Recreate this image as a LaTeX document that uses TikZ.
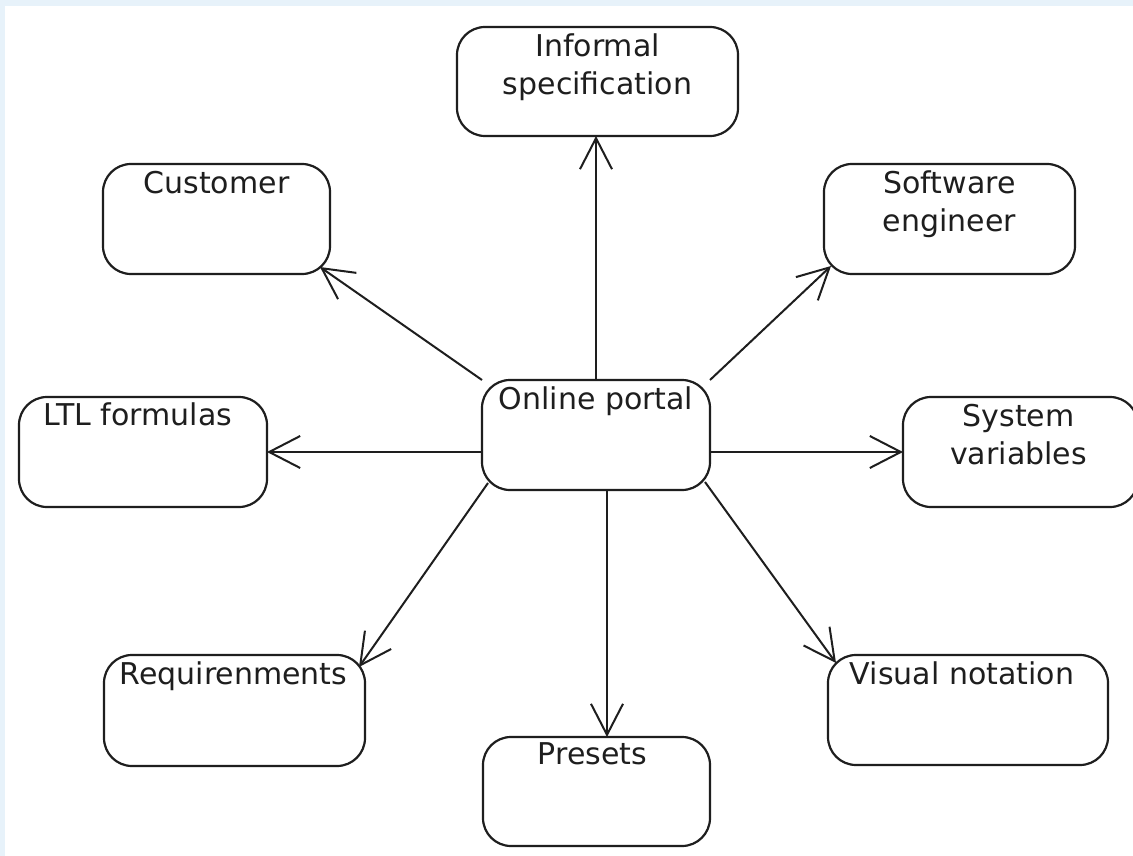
\documentclass[tikz,border=0pt]{standalone}
\usepackage{fontspec}
\setmainfont{DejaVu Sans}
\usetikzlibrary{arrows.meta,calc}
\definecolor{bgblue}{RGB}{231,242,250}
\definecolor{ink}{RGB}{30,30,30}
\definecolor{txt}{RGB}{30,30,30}
\begin{document}
\begin{tikzpicture}[x=1pt,y=-1pt,
  box/.style={draw=ink, line width=2.2pt, rounded corners=28pt, rectangle, inner sep=0pt, outer sep=0pt, fill=white},
  lbl/.style={anchor=north, inner sep=0pt, align=center, text=txt, font=\fontsize{30}{38}\selectfont},
  arr/.style={draw=ink, line width=2pt, -{Straight Barb[length=31pt,width=32pt]}}]
\useasboundingbox (0,0) rectangle (1133,856);
\clip (0,0) rectangle (1133,856);
\fill[bgblue] (0,0) rectangle (1133,856);
\fill[white] (5,6) rectangle (1133,856);

\node[box, minimum width=281pt, minimum height=109pt] (info) at (597.5,81.5) {};
\node[box, minimum width=227pt, minimum height=110pt] (cust) at (216.5,219) {};
\node[box, minimum width=251pt, minimum height=110pt] (soft) at (949.5,219) {};
\node[box, minimum width=228pt, minimum height=110pt] (portal) at (596,435) {};
\node[box, minimum width=248pt, minimum height=110pt] (ltl) at (143,452) {};
\node[box, minimum width=235pt, minimum height=110pt] (sys) at (1020.5,452) {};
\node[box, minimum width=261pt, minimum height=111pt] (req) at (234.5,710.5) {};
\node[box, minimum width=280pt, minimum height=110pt] (vis) at (968,710) {};
\node[box, minimum width=227pt, minimum height=109pt] (pre) at (596.5,791.5) {};

\node[lbl] (infoT) at ($(info.north)+(0,2.4)$) {\strut Informal\\\strut specification};
\node[lbl] (custT) at ($(cust.north)+(0,2.4)$) {\strut Customer};
\node[lbl] (softT) at ($(soft.north)+(0,2.4)$) {\strut Software\\\strut engineer};
\node[lbl] (portalT) at ($(portal.north)+(0,3)$) {\strut Online portal};
\node[lbl] (ltlT) at ($(ltl.north)+(-5,1.5)$) {\strut LTL formulas};
\node[lbl] (sysT) at ($(sys.north)+(-2,2.4)$) {\strut System\\\strut variables};
\node[lbl] (reqT) at ($(req.north)+(-1,2.4)$) {\strut Requirenments};
\node[lbl] (visT) at ($(vis.north)+(-6,2.4)$) {\strut Visual notation};
\node[lbl] (preT) at ($(pre.north)+(-4,1)$) {\strut Presets};

\draw[arr] (portal.north) -- (portal.north |- info.south);
\draw[arr] (portal.north west) -- ($(cust.south east)+(-10,-7)$);
\draw[arr] (portal.north east) -- ($(soft.south west)+(7,-8)$);
\draw[arr] (portal.west |- ltl.east) -- (ltl.east);
\draw[arr] (portal.east |- sys.west) -- (sys.west);
\draw[arr] ($(portal.south west)+(6,-7)$) -- ($(req.north east)+(-6,12)$);
\draw[arr] ($(portal.south east)+(-5,-8)$) -- ($(vis.north west)+(8,8)$);
\draw[arr] ($(portal.south)+(11,0)$) -- ($(pre.north)+(10.5,0)$);
\end{tikzpicture}
\end{document}
